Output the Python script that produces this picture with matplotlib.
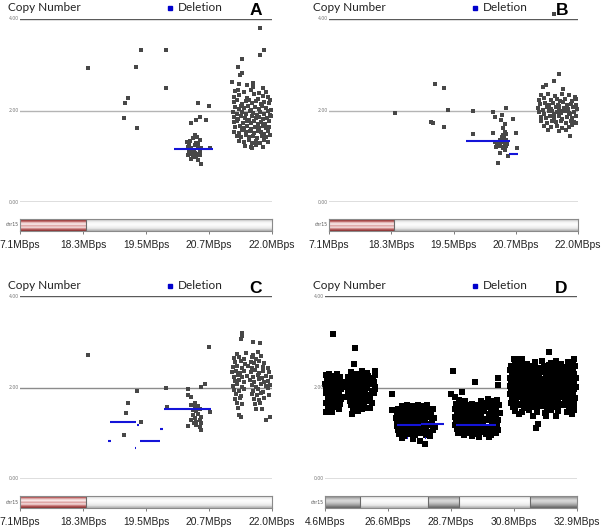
import numpy as np
import matplotlib.pyplot as plt
from matplotlib.patches import Rectangle

W, H = 605, 531

# ---------------- data ----------------
ticks_abc = ['7.1MBps', '18.3MBps', '19.5MBps', '20.7MBps', '22.0MBps']
ticks_d = ['4.6MBps', '26.6MBps', '28.7MBps', '30.8MBps', '32.9MBps']
y_ticks = [4.0, 2.0, 0.0]

# panel A : copy number probes (position in tick units, copy number)
a_points = [
    (1.08, 2.93), (1.92, 3.33), (1.84, 2.95), (2.32, 3.33), (2.32, 2.49), (1.71, 2.27), (1.67, 2.16),
    (1.65, 1.84), (1.86, 1.62), (2.83, 2.16), (3.00, 2.10), (2.71, 1.72), (2.79, 1.79), (2.86, 1.85),
    (2.95, 1.79),
    (2.78, 1.46), (2.74, 1.39), (2.81, 1.41), (2.65, 1.32), (2.70, 1.34), (2.79, 1.30), (2.86, 1.36),
    (2.67, 1.21), (2.72, 1.17), (2.76, 1.14), (2.83, 1.21), (2.88, 1.17), (2.71, 1.06), (2.78, 1.08),
    (2.85, 1.10), (2.66, 1.03), (2.75, 0.99), (2.80, 0.98), (2.86, 1.03), (2.72, 0.93), (2.83, 0.92),
    (2.87, 0.83), (3.02, 1.17), (2.69, 1.25), (2.77, 1.25), (2.82, 1.28), (2.74, 1.10), (2.68, 1.12),
    (2.80, 1.05),
    (3.81, 3.80), (3.87, 3.32), (3.81, 3.21), (3.53, 3.12), (3.46, 2.95), (3.49, 2.78), (3.53, 2.82),
    (3.37, 2.62), (3.48, 2.59), (3.61, 2.56), (3.70, 2.61), (3.70, 2.52), (3.86, 2.49), (3.46, 2.45),
    (3.97, 2.23),
    (3.42, 2.42), (3.55, 2.40), (3.66, 2.44), (3.80, 2.38), (3.90, 2.41),
    (3.40, 2.30), (3.48, 2.33), (3.60, 2.28), (3.71, 2.35), (3.77, 2.26), (3.85, 2.31), (3.94, 2.29),
    (3.39, 2.18), (3.45, 2.22), (3.52, 2.15), (3.58, 2.20), (3.64, 2.24), (3.69, 2.17), (3.75, 2.21),
    (3.82, 2.14), (3.88, 2.19), (3.96, 2.16),
    (3.41, 2.08), (3.47, 2.03), (3.50, 2.10), (3.56, 2.05), (3.62, 2.09), (3.67, 2.02), (3.73, 2.07),
    (3.79, 2.04), (3.84, 2.10), (3.91, 2.06), (3.98, 2.01),
    (3.38, 1.96), (3.44, 1.93), (3.53, 1.97), (3.59, 1.92), (3.65, 1.98), (3.70, 1.94), (3.76, 1.90),
    (3.81, 1.97), (3.87, 1.93), (3.93, 1.99), (3.97, 1.91),
    (3.40, 1.85), (3.46, 1.82), (3.51, 1.88), (3.57, 1.84), (3.63, 1.80), (3.68, 1.87), (3.74, 1.83),
    (3.80, 1.86), (3.86, 1.81), (3.92, 1.84), (3.99, 1.88),
    (3.39, 1.74), (3.45, 1.77), (3.54, 1.72), (3.60, 1.76), (3.66, 1.73), (3.72, 1.78), (3.78, 1.71),
    (3.83, 1.75), (3.89, 1.70), (3.95, 1.77),
    (3.42, 1.64), (3.49, 1.67), (3.55, 1.62), (3.61, 1.66), (3.67, 1.60), (3.73, 1.65), (3.79, 1.62),
    (3.85, 1.67), (3.90, 1.61), (3.96, 1.64),
    (3.40, 1.54), (3.47, 1.51), (3.53, 1.57), (3.59, 1.52), (3.65, 1.55), (3.71, 1.50), (3.77, 1.56),
    (3.82, 1.53), (3.88, 1.49), (3.94, 1.55),
    (3.44, 1.44), (3.50, 1.41), (3.58, 1.46), (3.64, 1.42), (3.70, 1.45), (3.76, 1.40), (3.84, 1.44),
    (3.91, 1.42), (3.97, 1.46),
    (3.48, 1.34), (3.56, 1.31), (3.63, 1.35), (3.69, 1.30), (3.75, 1.33), (3.81, 1.29), (3.87, 1.35),
    (3.93, 1.32),
    (3.57, 1.22), (3.66, 1.20), (3.74, 1.24), (3.86, 1.21), (3.68, 1.17),
]

b_points = [
    (3.62, 4.10), (1.06, 1.94), (1.70, 2.58), (1.84, 2.49), (1.91, 2.01), (2.32, 2.00), (1.64, 1.74),
    (1.67, 1.72), (1.85, 1.65), (2.32, 1.49), (2.64, 1.96), (2.66, 1.86), (2.84, 2.05), (2.78, 1.90),
    (2.76, 1.79), (2.95, 1.81), (2.83, 1.70),
    (2.80, 1.61), (2.83, 1.54), (2.79, 1.46), (2.84, 1.49), (2.81, 1.39), (2.85, 1.36), (2.77, 1.32),
    (2.64, 1.51), (2.67, 1.32), (2.72, 1.28), (2.75, 1.22), (2.69, 1.20), (2.80, 1.20), (2.85, 1.22),
    (2.83, 1.14), (2.75, 1.08), (2.87, 1.01), (3.00, 1.51), (3.02, 1.17), (2.71, 0.85), (2.78, 1.42),
    (2.82, 1.30), (2.74, 1.35), (2.86, 1.26), (2.70, 1.25), (2.79, 1.17),
    (3.69, 2.80), (3.62, 2.65), (3.49, 2.56), (3.44, 2.51), (3.76, 2.46), (3.87, 1.44), (3.97, 1.72),
    (3.40, 2.33), (3.52, 2.36), (3.63, 2.31), (3.74, 2.37), (3.86, 2.34), (3.95, 2.30),
    (3.37, 2.24), (3.45, 2.27), (3.56, 2.22), (3.66, 2.26), (3.71, 2.20), (3.79, 2.25), (3.90, 2.21),
    (3.97, 2.26),
    (3.39, 2.14), (3.47, 2.17), (3.53, 2.12), (3.60, 2.16), (3.68, 2.13), (3.76, 2.18), (3.83, 2.11),
    (3.89, 2.15), (3.96, 2.12),
    (3.36, 2.05), (3.43, 2.02), (3.50, 2.08), (3.57, 2.03), (3.64, 2.07), (3.70, 2.01), (3.78, 2.06),
    (3.84, 2.03), (3.92, 2.08), (3.98, 2.04),
    (3.38, 1.96), (3.46, 1.93), (3.54, 1.98), (3.61, 1.92), (3.67, 1.97), (3.73, 1.94), (3.81, 1.99),
    (3.87, 1.92), (3.94, 1.96),
    (3.41, 1.86), (3.48, 1.83), (3.55, 1.88), (3.62, 1.84), (3.69, 1.87), (3.75, 1.82), (3.82, 1.86),
    (3.90, 1.83), (3.97, 1.88),
    (3.40, 1.76), (3.50, 1.73), (3.58, 1.77), (3.65, 1.74), (3.72, 1.78), (3.80, 1.72), (3.88, 1.76),
    (3.93, 1.74),
    (3.45, 1.66), (3.56, 1.63), (3.66, 1.67), (3.74, 1.62), (3.85, 1.65), (3.91, 1.68),
    (3.52, 1.57), (3.70, 1.56), (3.80, 1.58), (3.58, 2.00), (3.76, 1.99), (3.69, 2.10), (3.85, 1.95),
]

c_points = [
    (1.08, 2.71), (3.00, 2.89), (1.85, 1.93), (2.32, 2.00), (2.66, 1.97), (2.87, 2.02), (2.94, 2.07),
    (1.71, 1.66), (1.68, 1.45), (1.92, 1.24), (1.65, 0.96), (2.33, 1.57), (2.66, 1.84), (2.71, 1.79),
    (2.78, 1.67), (2.66, 1.16), (2.87, 1.07), (2.80, 1.18), (3.02, 1.47),
    (2.72, 1.62), (2.78, 1.58), (2.83, 1.60), (2.86, 1.54), (2.74, 1.51), (2.80, 1.49), (2.75, 1.40),
    (2.83, 1.42), (2.88, 1.36), (2.78, 1.33), (2.72, 1.30), (2.85, 1.29), (2.80, 1.25), (2.76, 1.22),
    (2.88, 1.22), (2.86, 1.14),
    (3.53, 3.20), (3.52, 3.13), (3.50, 3.07), (3.70, 2.99), (3.81, 2.97), (3.47, 1.40), (3.50, 1.36),
    (3.90, 1.29), (3.97, 1.36), (3.84, 1.54),
    (3.44, 2.74), (3.58, 2.76), (3.70, 2.72), (3.78, 2.78),
    (3.40, 2.64), (3.47, 2.67), (3.55, 2.62), (3.68, 2.66), (3.75, 2.63), (3.83, 2.68),
    (3.42, 2.55), (3.50, 2.58), (3.57, 2.52), (3.66, 2.56), (3.72, 2.53), (3.80, 2.57), (3.88, 2.54),
    (3.38, 2.44), (3.45, 2.47), (3.53, 2.42), (3.62, 2.46), (3.69, 2.43), (3.76, 2.48), (3.85, 2.45),
    (3.93, 2.42),
    (3.36, 2.34), (3.43, 2.37), (3.49, 2.32), (3.56, 2.36), (3.67, 2.33), (3.73, 2.38), (3.79, 2.31),
    (3.86, 2.35), (3.95, 2.33),
    (3.39, 2.24), (3.46, 2.27), (3.52, 2.22), (3.60, 2.26), (3.70, 2.23), (3.77, 2.28), (3.84, 2.21),
    (3.91, 2.26), (3.98, 2.23),
    (3.41, 2.14), (3.48, 2.17), (3.55, 2.12), (3.65, 2.16), (3.72, 2.13), (3.80, 2.18), (3.87, 2.11),
    (3.94, 2.15),
    (3.38, 2.04), (3.45, 2.07), (3.53, 2.02), (3.68, 2.06), (3.74, 2.01), (3.82, 2.08), (3.90, 2.03),
    (3.97, 2.06),
    (3.40, 1.95), (3.47, 1.92), (3.56, 1.97), (3.70, 1.93), (3.78, 1.96), (3.85, 1.91), (3.93, 1.98),
    (3.43, 1.85), (3.50, 1.82), (3.69, 1.86), (3.76, 1.83), (3.83, 1.87), (3.96, 1.84),
    (3.41, 1.74), (3.49, 1.77), (3.71, 1.75), (3.79, 1.72), (3.88, 1.76),
    (3.44, 1.66), (3.52, 1.63), (3.73, 1.64), (3.81, 1.67), (3.46, 1.56), (3.75, 1.54),
]

d_points = [
    # first block
    (0.01, 2.28), (0.06, 2.30), (0.12, 2.26), (0.19, 2.29), (0.24, 2.22),
    (0.03, 2.18), (0.09, 2.20), (0.15, 2.15), (0.21, 2.17), (0.27, 2.12),
    (0.00, 2.08), (0.05, 2.05), (0.11, 2.10), (0.17, 2.03), (0.23, 2.07), (0.28, 2.01),
    (0.02, 1.97), (0.08, 1.94), (0.14, 1.99), (0.20, 1.92), (0.25, 1.96),
    (0.01, 1.87), (0.06, 1.84), (0.12, 1.89), (0.18, 1.82), (0.23, 1.86), (0.27, 1.80),
    (0.04, 1.76), (0.10, 1.73), (0.16, 1.78), (0.21, 1.71), (0.26, 1.75),
    (0.02, 1.66), (0.08, 1.63), (0.13, 1.68), (0.19, 1.61), (0.24, 1.65),
    (0.05, 1.56), (0.11, 1.53), (0.17, 1.58), (0.22, 1.52), (0.02, 1.46), (0.11, 1.46), (0.13, 3.16),
    # second block
    (0.42, 2.33), (0.50, 2.30), (0.58, 2.35), (0.66, 2.31),
    (0.37, 2.24), (0.44, 2.21), (0.52, 2.26), (0.60, 2.22), (0.68, 2.25), (0.76, 2.20),
    (0.36, 2.14), (0.41, 2.17), (0.48, 2.12), (0.55, 2.16), (0.62, 2.13), (0.70, 2.17), (0.77, 2.11),
    (0.35, 2.05), (0.43, 2.08), (0.50, 2.03), (0.57, 2.07), (0.64, 2.04), (0.71, 2.08), (0.79, 2.02),
    (0.38, 1.97), (0.45, 1.94), (0.53, 1.99), (0.60, 1.95), (0.67, 1.98), (0.74, 1.93), (0.80, 1.96),
    (0.36, 1.88), (0.42, 1.85), (0.49, 1.90), (0.56, 1.86), (0.63, 1.89), (0.70, 1.84), (0.77, 1.87),
    (0.37, 1.79), (0.44, 1.76), (0.51, 1.81), (0.58, 1.77), (0.65, 1.80), (0.72, 1.75),
    (0.39, 1.70), (0.46, 1.67), (0.53, 1.72), (0.60, 1.68), (0.67, 1.71), (0.74, 1.66),
    (0.41, 1.61), (0.48, 1.58), (0.55, 1.62), (0.62, 1.59), (0.69, 1.56),
    (0.44, 1.52), (0.52, 1.49), (0.59, 1.53), (0.71, 1.56), (0.43, 1.42),
    (0.47, 2.86), (0.46, 2.51), (0.79, 2.37), (0.80, 2.28),
    # third block (loss)
    (1.22, 1.60), (1.30, 1.62), (1.38, 1.59), (1.47, 1.61), (1.55, 1.60), (1.62, 1.62),
    (1.16, 1.52), (1.24, 1.54), (1.32, 1.50), (1.40, 1.53), (1.48, 1.51), (1.56, 1.54), (1.64, 1.50),
    (1.71, 1.52),
    (1.14, 1.43), (1.21, 1.45), (1.29, 1.41), (1.37, 1.44), (1.45, 1.42), (1.53, 1.45), (1.61, 1.41),
    (1.68, 1.44),
    (1.13, 1.34), (1.19, 1.31), (1.27, 1.35), (1.35, 1.32), (1.43, 1.36), (1.51, 1.33), (1.59, 1.30),
    (1.66, 1.35), (1.73, 1.33),
    (1.15, 1.25), (1.23, 1.22), (1.31, 1.26), (1.39, 1.23), (1.47, 1.27), (1.55, 1.24), (1.63, 1.21),
    (1.70, 1.26),
    (1.14, 1.16), (1.21, 1.13), (1.29, 1.17), (1.37, 1.14), (1.45, 1.18), (1.53, 1.15), (1.61, 1.12),
    (1.68, 1.17), (1.74, 1.14),
    (1.16, 1.07), (1.24, 1.04), (1.32, 1.08), (1.40, 1.05), (1.48, 1.09), (1.56, 1.06), (1.64, 1.03),
    (1.71, 1.07),
    (1.18, 0.98), (1.27, 0.95), (1.35, 0.99), (1.43, 0.96), (1.51, 1.00), (1.60, 0.97), (1.67, 0.94),
    (1.22, 0.90), (1.40, 0.88), (1.50, 0.82), (1.58, 0.76), (1.06, 1.86), (1.06, 1.51),
    # fourth block (loss)
    (2.12, 1.72), (2.22, 1.70), (2.48, 1.71), (2.58, 1.74), (2.66, 1.70), (2.73, 1.73),
    (2.08, 1.63), (2.16, 1.65), (2.25, 1.61), (2.34, 1.64), (2.43, 1.62), (2.52, 1.66), (2.61, 1.63),
    (2.70, 1.65), (2.76, 1.61),
    (2.07, 1.54), (2.14, 1.51), (2.22, 1.55), (2.31, 1.52), (2.39, 1.56), (2.47, 1.53), (2.56, 1.57),
    (2.64, 1.52), (2.72, 1.55),
    (2.09, 1.45), (2.17, 1.47), (2.26, 1.43), (2.35, 1.46), (2.44, 1.44), (2.53, 1.48), (2.61, 1.42),
    (2.69, 1.46), (2.77, 1.44),
    (2.06, 1.36), (2.13, 1.33), (2.21, 1.37), (2.30, 1.34), (2.38, 1.38), (2.47, 1.35), (2.55, 1.32),
    (2.63, 1.37), (2.71, 1.34),
    (2.08, 1.27), (2.16, 1.25), (2.24, 1.29), (2.33, 1.26), (2.41, 1.28), (2.50, 1.24), (2.58, 1.29),
    (2.66, 1.25), (2.74, 1.28),
    (2.07, 1.18), (2.15, 1.15), (2.23, 1.19), (2.32, 1.16), (2.40, 1.20), (2.49, 1.17), (2.57, 1.14),
    (2.65, 1.19), (2.73, 1.16),
    (2.09, 1.09), (2.17, 1.06), (2.26, 1.10), (2.34, 1.07), (2.43, 1.11), (2.52, 1.08), (2.60, 1.05),
    (2.68, 1.10), (2.75, 1.07),
    (2.11, 1.00), (2.20, 0.97), (2.29, 1.01), (2.38, 0.98), (2.47, 1.02), (2.56, 0.99), (2.64, 0.96),
    (2.72, 1.00), (2.33, 0.94), (2.44, 0.92), (2.60, 0.91),
    (2.03, 2.35), (2.38, 2.11), (2.17, 1.91), (2.75, 2.20), (2.75, 2.05), (2.00, 1.86), (2.06, 1.80),
    # fifth block
    (3.02, 2.55), (3.10, 2.58), (3.20, 2.52), (3.33, 2.56), (3.45, 2.59), (3.58, 2.53), (3.66, 2.57),
    (3.75, 2.51), (3.86, 2.56), (3.94, 2.54),
    (2.96, 2.47), (3.05, 2.44), (3.13, 2.49), (3.22, 2.45), (3.30, 2.48), (3.39, 2.43), (3.48, 2.47),
    (3.56, 2.50), (3.64, 2.44), (3.72, 2.48), (3.81, 2.45), (3.89, 2.49), (3.97, 2.46),
    (2.94, 2.38), (3.01, 2.41), (3.09, 2.36), (3.17, 2.40), (3.26, 2.37), (3.34, 2.39), (3.43, 2.35),
    (3.51, 2.40), (3.60, 2.38), (3.68, 2.36), (3.77, 2.41), (3.85, 2.37), (3.93, 2.39),
    (2.97, 2.29), (3.05, 2.32), (3.14, 2.28), (3.22, 2.31), (3.31, 2.27), (3.39, 2.30), (3.47, 2.33),
    (3.55, 2.28), (3.63, 2.31), (3.72, 2.29), (3.80, 2.32), (3.88, 2.27), (3.96, 2.30),
    (2.93, 2.21), (3.00, 2.24), (3.08, 2.19), (3.17, 2.22), (3.25, 2.20), (3.34, 2.23), (3.42, 2.18),
    (3.50, 2.22), (3.59, 2.20), (3.67, 2.24), (3.75, 2.19), (3.84, 2.21), (3.92, 2.23), (3.98, 2.20),
    (2.95, 2.12), (3.03, 2.15), (3.12, 2.10), (3.20, 2.13), (3.28, 2.11), (3.37, 2.14), (3.45, 2.09),
    (3.53, 2.13), (3.62, 2.11), (3.70, 2.15), (3.78, 2.10), (3.87, 2.12), (3.95, 2.14),
    (2.93, 2.03), (3.01, 2.06), (3.09, 2.01), (3.18, 2.04), (3.26, 2.02), (3.35, 2.05), (3.43, 2.00),
    (3.51, 2.04), (3.60, 2.02), (3.68, 2.06), (3.77, 2.01), (3.85, 2.03), (3.93, 2.05), (3.98, 2.02),
    (2.96, 1.94), (3.04, 1.97), (3.13, 1.92), (3.21, 1.95), (3.30, 1.93), (3.38, 1.96), (3.46, 1.91),
    (3.55, 1.95), (3.63, 1.93), (3.71, 1.97), (3.80, 1.92), (3.88, 1.94), (3.96, 1.96),
    (2.94, 1.85), (3.02, 1.88), (3.10, 1.83), (3.19, 1.86), (3.27, 1.84), (3.36, 1.87), (3.44, 1.82),
    (3.52, 1.86), (3.61, 1.84), (3.69, 1.88), (3.78, 1.83), (3.86, 1.85), (3.94, 1.87),
    (2.97, 1.76), (3.05, 1.79), (3.14, 1.74), (3.22, 1.77), (3.31, 1.75), (3.39, 1.78), (3.47, 1.73),
    (3.56, 1.77), (3.64, 1.75), (3.72, 1.79), (3.81, 1.74), (3.89, 1.76), (3.97, 1.78),
    (2.95, 1.67), (3.03, 1.70), (3.11, 1.65), (3.20, 1.68), (3.28, 1.66), (3.37, 1.69), (3.45, 1.64),
    (3.53, 1.68), (3.62, 1.66), (3.70, 1.70), (3.79, 1.65), (3.87, 1.67), (3.95, 1.69),
    (2.98, 1.58), (3.07, 1.61), (3.16, 1.56), (3.25, 1.59), (3.34, 1.57), (3.43, 1.60), (3.52, 1.55),
    (3.60, 1.59), (3.69, 1.57), (3.78, 1.61), (3.87, 1.56), (3.96, 1.58),
    (3.02, 1.49), (3.12, 1.46), (3.24, 1.50), (3.36, 1.47), (3.49, 1.45), (3.58, 1.51), (3.70, 1.48),
    (3.84, 1.46), (3.95, 1.50),
    (3.08, 1.41), (3.30, 1.38), (3.51, 1.40), (3.66, 1.37), (3.92, 1.42),
    (3.56, 2.78), (3.00, 2.62), (3.04, 2.62), (3.08, 2.62), (3.12, 2.62), (3.95, 2.62), (3.38, 1.20),
    (3.35, 1.12), (3.51, 1.38),
]

# deletion calls: (start, end, copy number)
a_del = [(2.44, 3.06, 1.16)]
b_del = [(2.20, 2.90, 1.34), (2.89, 3.03, 1.06)]
c_del = [(2.28, 3.03, 1.53), (1.43, 1.84, 1.25), (1.85, 1.89, 1.17), (2.23, 2.27, 1.10),
         (1.39, 1.44, 0.83), (1.90, 2.23, 0.82), (1.82, 1.84, 0.68)]
d_del = [(1.14, 1.52, 1.17), (1.52, 1.89, 1.21), (2.08, 2.71, 1.18), (1.30, 1.32, 0.89),
         (1.58, 1.60, 0.90)]

# chromosome bands: (start, end, kind)
abc_bands = [(0.0, 1.05, 'red'), (1.05, 4.0, 'light')]
d_bands = [(0.0, 0.56, 'dark'), (0.56, 1.63, 'light'), (1.63, 2.13, 'dark'),
           (2.13, 3.25, 'light'), (3.25, 4.0, 'dark')]

# ---------------- drawing ----------------
band_grad = {
    'red': [(0.55, 0.18, 0.18), (0.72, 0.36, 0.36), (0.92, 0.78, 0.78), (0.98, 0.92, 0.92),
            (0.86, 0.62, 0.62), (0.96, 0.88, 0.88), (0.80, 0.50, 0.50), (0.58, 0.22, 0.22)],
    'light': [(0.78,) * 3, (0.90,) * 3, (0.97,) * 3, (0.99,) * 3, (0.97,) * 3, (0.94,) * 3,
              (0.88,) * 3, (0.72,) * 3],
    'dark': [(0.45,) * 3, (0.62,) * 3, (0.78,) * 3, (0.85,) * 3, (0.80,) * 3, (0.70,) * 3,
             (0.58,) * 3, (0.42,) * 3],
}

fig = plt.figure(figsize=(W / 100, H / 100), dpi=100)


def fx(x):
    return x / W


def fy(y):
    return 1 - y / H


def panel(pts, dels, bands, ticklabels, letter, x0, x1, y4, yz, ox, oy, pt_col, pt_size, mid_col):
    ax = fig.add_axes([fx(x0), fy(yz), (x1 - x0) / W, (yz - y4) / H])
    ax.set_xlim(0, 4)
    ax.set_ylim(0, 4)
    ax.axis('off')
    for yv in y_ticks:
        ax.axhline(yv, color=mid_col if yv == 2.0 else '#5a5a5a', lw=1.0, zorder=1)
        py = yz - (yz - y4) * yv / 4
        fig.text(fx(x0 - 1), fy(py), '%.2f' % yv, ha='right', va='center',
                 fontsize=3.3, color='#777777')
    xs = [p[0] for p in pts]
    ys = [p[1] for p in pts]
    ax.scatter(xs, ys, s=pt_size, marker='s', c=pt_col, linewidths=0, clip_on=False, zorder=2)
    for s, e, v in dels:
        ax.plot([s, e], [v, v], color='#1414d8', lw=1.5, solid_capstyle='butt', zorder=3)

    # ideogram
    bt, bb = yz + 17, yz + 29
    ax2 = fig.add_axes([fx(x0), fy(bb), (x1 - x0) / W, (bb - bt) / H])
    for s, e, kind in bands:
        g = np.array(band_grad[kind]).reshape(-1, 1, 3)
        ax2.imshow(g, extent=(s, e, 0, 1), aspect='auto', interpolation='bilinear')
        if s > 0:
            ax2.axvline(s, color='#6a6a6a', lw=0.8)
    ax2.set_xlim(0, 4)
    ax2.set_ylim(0, 1)
    ax2.set_yticks([])
    ax2.set_xticks(range(len(ticklabels)))
    ax2.set_xticklabels(ticklabels, fontsize=7.4, family='Liberation Sans', color='#222222')
    ax2.tick_params(axis='x', length=2.5, width=0.6, color='#666666', pad=4)
    for sp in ax2.spines.values():
        sp.set_color('#8a8a8a')
        sp.set_linewidth(0.8)
    fig.text(fx(x0 - 1), fy((bt + bb) / 2), 'chr15', ha='right', va='center',
             fontsize=3.3, color='#555555')

    # header
    fig.text(fx(ox + 8), fy(oy + 11), 'Copy Number', fontsize=8.5, family='Lato',
             color='#222222', va='baseline')
    fig.patches.append(Rectangle((fx(ox + 168), fy(oy + 9.5)), 4 / W, 4 / H,
                                 transform=fig.transFigure, color='#0000cc'))
    fig.text(fx(ox + 178), fy(oy + 11), 'Deletion', fontsize=8.5, family='Lato',
             color='#222222', va='baseline')
    fig.text(fx(x1 - 16), fy(oy + 10.5), letter, fontsize=12.5, fontweight='bold',
             family='Liberation Sans', ha='center', va='center', color='black')


panel(a_points, a_del, abc_bands, ticks_abc, 'A', 20, 272, 19, 202, 0, 0, '#474747', 9, '#b4b4b4')
panel(b_points, b_del, abc_bands, ticks_abc, 'B', 329, 578, 19, 202, 305, 0, '#474747', 9, '#b4b4b4')
panel(c_points, c_del, abc_bands, ticks_abc, 'C', 20, 272, 296, 479, 0, 278, '#474747', 9, '#8c8c8c')
panel(d_points, d_del, d_bands, ticks_d, 'D', 325, 577, 296, 479, 305, 278, '#000000', 14, '#8c8c8c')

fig.savefig('out.png', dpi=100)
